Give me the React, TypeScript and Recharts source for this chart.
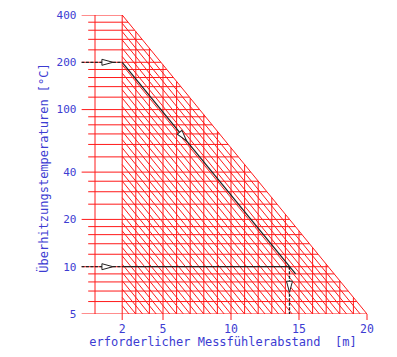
import { ComposedChart, Line, Scatter, XAxis, YAxis, Label } from 'recharts';

// axis ticks
const xTicks = [2, 5, 10, 15, 20];
const yTicks = [5, 10, 20, 40, 100, 200, 400];

// red grid: temperature lines, distance lines, diagonal shifts (in m)
const tempLines = [
  400, 360, 320, 280, 240, 200, 180, 160, 140, 120, 100, 90, 80, 70, 60, 50,
  40, 35, 30, 25, 20, 18, 16, 14, 12, 10, 9, 8, 7, 6, 5,
];
const distLines = [0, 2, 3, 4, 5, 6, 7, 8, 9, 10, 11, 12, 13, 14, 15, 16, 17, 18, 19, 20];
const diagShifts = [
  0, 0.5, 1, 1.5, 2, 2.5, 3, 3.5, 4, 4.5, 5, 5.5, 6, 6.5, 7, 7.5, 8, 8.5, 9,
  9.5, 10, 10.5, 11, 11.5, 12, 12.5, 13, 13.5, 14, 14.5, 15, 15.5, 16, 16.5, 17, 17.5,
];
const corner = { x: 2, y: 400 };
const foot = { x: 20, y: 5 };

// black example paths
const highLead = [{ x: -1, y: 200 }, { x: 2, y: 200 }];
const highDiag = [{ x: 2, y: 200 }, { x: 14.75, y: 9 }];
const lowLead = [{ x: -1, y: 10 }, { x: 2, y: 10 }];
const lowRun = [{ x: 2, y: 10 }, { x: 14.3, y: 10 }];
const lowDrop = [{ x: 14.3, y: 10 }, { x: 14.3, y: 5 }];
const arrows = [
  { x: 0.95, y: 200, angle: 0 },
  { x: 0.95, y: 10, angle: 0 },
  { x: 6.5, y: 67, angle: 51 },
  { x: 14.3, y: 7.4, angle: 90 },
];

const RED = '#ff1a1a';
const BLUE = '#3c3cd2';
const FONT = '"DejaVu Sans Mono", monospace';

const slope = Math.log2(corner.y / foot.y) / (foot.x - corner.x);
const edgeX = (t: number) => corner.x + Math.log2(corner.y / t) / slope;
const edgeY = (d: number) => corner.y * Math.pow(2, -slope * (d - corner.x));

const hSegs = tempLines.map((t) => [
  { x: yTicks.includes(t) ? -1 : -0.5, y: t },
  { x: t === 400 ? corner.x : edgeX(t), y: t },
]);
const vSegs = distLines.map((d) => [
  { x: d, y: foot.y },
  { x: d, y: d <= corner.x ? corner.y : edgeY(d) },
]);
const dSegs = diagShifts.map((s) => [
  { x: corner.x, y: edgeY(corner.x + s) },
  { x: foot.x - s, y: foot.y },
]);

const ArrowHead = (props: any) => {
  const { cx, cy, payload } = props;
  return (
    <polygon
      points="-6,-3 5,0 -6,3"
      transform={`translate(${cx},${cy}) rotate(${payload.angle})`}
      fill="#fff"
      stroke="#222"
      strokeWidth={1}
    />
  );
};

export default function App() {
  const gridLines = [...hSegs, ...vSegs, ...dSegs];
  return (
    <div>
      <style>{'body{margin:0;background:#fff}'}</style>
      <ComposedChart width={397} height={357} margin={{ top: 15, right: 30, bottom: 0, left: 0 }}>
        <XAxis
          dataKey="x"
          type="number"
          domain={[-1, 20]}
          allowDataOverflow
          ticks={xTicks}
          axisLine={false}
          tickLine={{ stroke: RED }}
          tickSize={6}
          tickMargin={5}
          height={43}
          tick={{ fill: BLUE, fontSize: 11.5, fontFamily: FONT }}
        >
          <Label
            content={() => (
              <text x={223} y={346} textAnchor="middle" fill={BLUE} fontSize={12} fontFamily={FONT}>
                erforderlicher Messfühlerabstand{'\u00a0\u00a0'}[m]
              </text>
            )}
          />
        </XAxis>
        <YAxis
          dataKey="y"
          type="number"
          scale="log"
          domain={[5, 400]}
          allowDataOverflow
          ticks={yTicks}
          axisLine={false}
          tickLine={false}
          tickSize={0}
          tickMargin={5}
          width={81.4}
          tick={{ fill: BLUE, fontSize: 11, fontFamily: FONT }}
        >
          <Label
            content={() => (
              <text
                x={44}
                y={168}
                transform="rotate(-90 44 168)"
                textAnchor="middle"
                dominantBaseline="central"
                fill={BLUE}
                fontSize={12}
                fontFamily={FONT}
              >
                Überhitzungstemperaturen [°C]
              </text>
            )}
          />
        </YAxis>
        {gridLines.map((seg, i) => (
          <Line
            key={`g${i}`}
            data={seg}
            dataKey="y"
            type="linear"
            stroke={RED}
            strokeWidth={1}
            dot={false}
            activeDot={false}
            isAnimationActive={false}
          />
        ))}
        <Line data={highLead} dataKey="y" type="linear" stroke="#222" strokeWidth={1.3} strokeDasharray="3 1.5" dot={false} isAnimationActive={false} />
        <Line data={highDiag} dataKey="y" type="linear" stroke="#222" strokeWidth={1.3} dot={false} isAnimationActive={false} />
        <Line data={lowLead} dataKey="y" type="linear" stroke="#222" strokeWidth={1.3} strokeDasharray="3 1.5" dot={false} isAnimationActive={false} />
        <Line data={lowRun} dataKey="y" type="linear" stroke="#222" strokeWidth={1.3} dot={false} isAnimationActive={false} />
        <Line data={lowDrop} dataKey="y" type="linear" stroke="#222" strokeWidth={1.3} strokeDasharray="3 1.5" dot={false} isAnimationActive={false} />
        <Scatter data={arrows} dataKey="y" shape={ArrowHead} isAnimationActive={false} />
      </ComposedChart>
    </div>
  );
}
